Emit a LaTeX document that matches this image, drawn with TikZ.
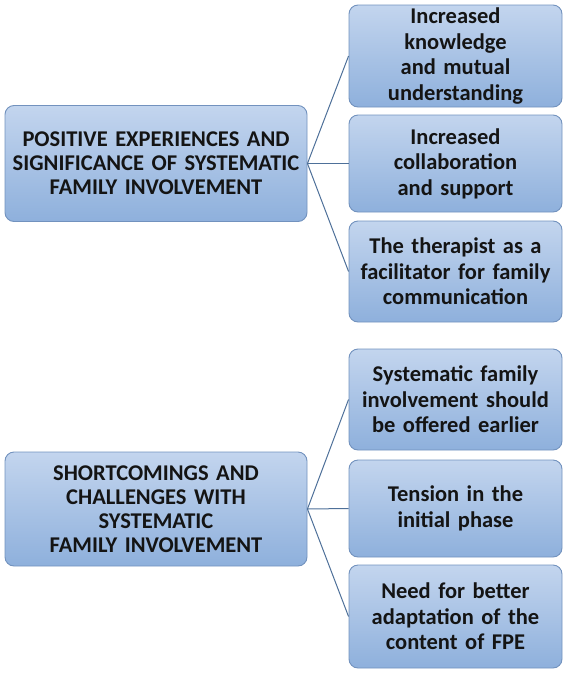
\documentclass[tikz,border=0pt]{standalone}
\usepackage{fontspec}
\setmainfont{Carlito}
\definecolor{boxtop}{HTML}{C3D5EE}
\definecolor{boxbot}{HTML}{8EB0DC}
\definecolor{boxline}{HTML}{7292BE}
\definecolor{conn}{HTML}{4E7099}
\definecolor{txt}{HTML}{141414}
\tikzset{
  box/.style={draw=boxline, line width=0.9pt, rounded corners=9pt, top color=boxtop, bottom color=boxbot,
    align=center, inner sep=2pt, text=txt},
  mainbox/.style={box, minimum width=302pt, text width=296pt, font=\fontsize{22.5}{24}\selectfont\bfseries},
  subbox/.style={box, minimum width=213pt, text width=209pt, font=\fontsize{22.5}{25.5}\selectfont\bfseries},
  conn/.style={draw=conn, line width=1pt}
}
\begin{document}
\begin{tikzpicture}[x=1pt,y=-1pt]
\useasboundingbox (0,0) rectangle (567,673);
\node[mainbox, minimum height=116pt] (m1) at (156,163.5) {POSITIVE EXPERIENCES AND\\SIGNIFICANCE OF SYSTEMATIC\\FAMILY INVOLVEMENT};
\node[subbox, minimum height=102pt] (a1) at (455.5,56) {Increased\\knowledge\\and mutual\\understanding};
\node[subbox, minimum height=97pt] (a2) at (455.5,163.5) {Increased\\collaboration\\and support};
\node[subbox, minimum height=101pt] (a3) at (455.5,271.5) {The therapist as a\\facilitator for family\\communication};
\node[mainbox, minimum height=114pt] (m2) at (156,509) {SHORTCOMINGS AND\\CHALLENGES WITH\\SYSTEMATIC\\FAMILY INVOLVEMENT};
\node[subbox, minimum height=101pt] (b1) at (455.5,399.5) {Systematic family\\involvement should\\be offered earlier};
\node[subbox, minimum height=97pt] (b2) at (455.5,508.5) {Tension in the\\initial phase};
\node[subbox, minimum height=103pt] (b3) at (455.5,616.5) {Need for better\\adaptation of the\\content of FPE};
\foreach \t in {a1,a2,a3} \draw[conn] (m1.east) -- (\t.west);
\foreach \t in {b1,b2,b3} \draw[conn] (m2.east) -- (\t.west);
\end{tikzpicture}
\end{document}
